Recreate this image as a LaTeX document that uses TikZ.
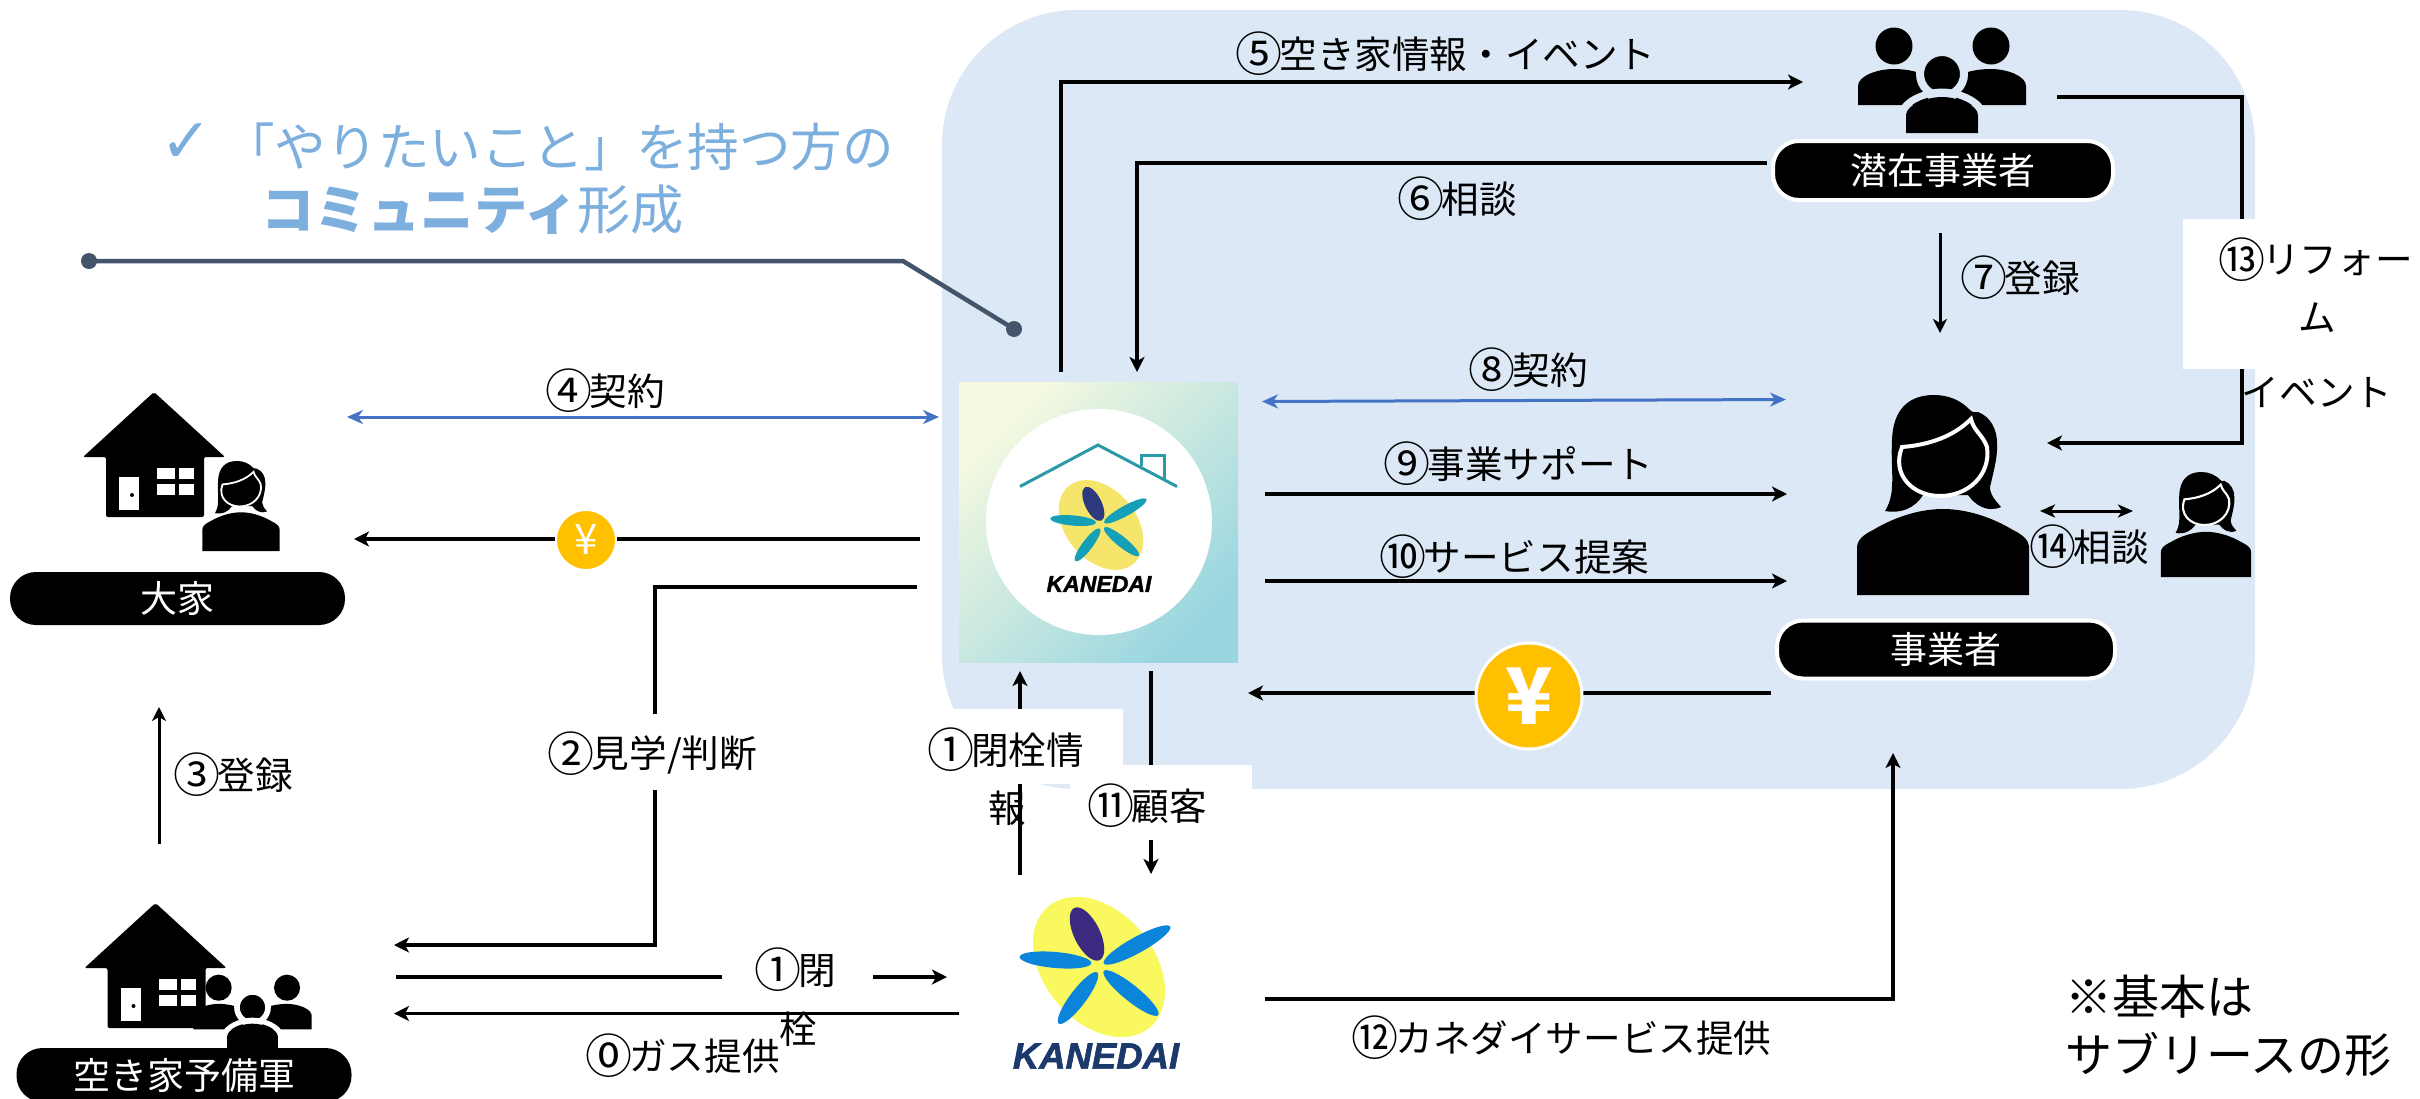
\documentclass[tikz,border=0pt]{standalone}
\usepackage{fontspec}
\setmainfont{Noto Sans CJK JP}
\newfontfamily\dejavu{DejaVu Sans}
\newfontfamily\kanedaifont{Liberation Sans}[BoldItalicFeatures={FakeBold=1.6}]
\usetikzlibrary{arrows.meta,calc}
\definecolor{panelblue}{HTML}{DCE8F5}
\definecolor{arrowblue}{HTML}{4472C4}
\definecolor{titleblue}{HTML}{7CAFDE}
\definecolor{slateline}{HTML}{44546A}
\definecolor{coinorange}{HTML}{FFC000}
\definecolor{logoyellow}{HTML}{F9F95F}
\definecolor{logoblue}{HTML}{0A85D9}
\definecolor{logonavy}{HTML}{3B2A80}
\definecolor{logotext}{HTML}{1B3A6B}
\definecolor{softyellow}{HTML}{F5E56B}
\definecolor{softteal}{HTML}{16A0B8}
\definecolor{softnavy}{HTML}{2E3A80}
\definecolor{roofteal}{HTML}{2A9AA8}
\definecolor{gradA}{HTML}{F5F9E0}
\definecolor{gradB}{HTML}{DFF1E8}
\definecolor{gradC}{HTML}{9AD6E0}
\newcommand{\fsz}[1]{\fontsize{#1}{#1}\selectfont}
\newcommand{\cn}[1]{\kern-3pt\raisebox{-3.5pt}{\smash{\fsz{47}#1}}\kern-3pt}
\tikzset{
  blk/.style={line width=3.6pt,draw=black},
  arr/.style={blk,-{Stealth[length=15pt,width=15pt,inset=4pt]}},
  thinarr/.style={line width=3pt,draw=black,-{Stealth[length=14pt,width=14pt,inset=4pt]}},
  dblarr/.style={line width=3pt,draw=black,{Stealth[length=15pt,width=13pt,inset=4pt]}-{Stealth[length=15pt,width=13pt,inset=4pt]}},
  bluearr/.style={line width=3pt,draw=arrowblue,{Stealth[length=16pt,width=14pt,inset=5pt]}-{Stealth[length=16pt,width=14pt,inset=5pt]}},
  lab/.style={inner sep=0pt,text=black,font=\fsz{37.6}},
  pill/.style={rounded corners=26pt,fill=black,text=white,font=\fsz{37},inner sep=0pt,anchor=center},
  pillw/.style={pill,draw=white,line width=4pt},
  blank/.style={fill=white,draw=none},
  coin/.style={circle,fill=coinorange,draw=white,text=white,inner sep=0pt},
}
% woman icon: #1 position of top centre, #2 scale
\newcommand{\womanicon}[2]{%
\begin{scope}[shift={#1},scale=#2]
\fill[black] (-9,0) .. controls (-35,0) and (-50,15) .. (-51,45) .. controls (-52,65) and (-50,80) .. (-51,91) .. controls (-51,100) and (-54,110) .. (-58,116) .. controls (-42,119) and (-28,113) .. (-20,100) -- (25,100) .. controls (32,110) and (44,118) .. (58,112) .. controls (52,105) and (47,100) .. (47,92) .. controls (51,75) and (55,60) .. (54,48) .. controls (54,35) and (48,22) .. (35,17) .. controls (32,17) and (30,18) .. (28,16) .. controls (18,5) and (5,0) .. (-9,0) -- cycle;
\filldraw[fill=black,draw=white,line width=#2*4pt] (-41,52) .. controls (-15,50) and (10,42) .. (28,24) .. controls (30,35) and (40,40) .. (44,52) .. controls (48,80) and (25,101) .. (-3,101) .. controls (-30,101) and (-52,80) .. (-41,52) -- cycle;
\fill[black] (-86,200) -- (-86,153) .. controls (-86,145) and (-80,140) .. (-70,135) .. controls (-45,120) and (-20,114) .. (0,114) .. controls (20,114) and (45,120) .. (70,135) .. controls (80,140) and (86,145) .. (86,153) -- (86,200) -- cycle;
\end{scope}}
% group icon: #1 top centre, #2 scale, #3 gap colour
\newcommand{\groupicon}[3]{%
\begin{scope}[shift={#1},scale=#2]
\fill[black] (-48,18) circle[radius=18.5];
\fill[black] (49,18) circle[radius=18.5];
\fill[black] (-84,77) -- (-84,58) .. controls (-84,48) and (-65,41) .. (-48,41) .. controls (-35,41) and (-20,44) .. (-14,50) -- (-14,77) -- cycle;
\fill[black] (84,77) -- (84,58) .. controls (84,48) and (65,41) .. (49,41) .. controls (35,41) and (20,44) .. (14,50) -- (14,77) -- cycle;
\filldraw[fill=black,draw=#3,line width=#2*8pt] (0,46) circle[radius=22];
\fill[black] (-36,105) -- (-36,87) .. controls (-36,77) and (-15,69) .. (0,69) .. controls (15,69) and (36,77) .. (36,87) -- (36,105) -- cycle;
\draw[#3,line width=#2*7pt] (-40,105) -- (-40,87) .. controls (-40,73) and (-15,64) .. (0,64) .. controls (15,64) and (40,73) .. (40,87) -- (40,105);
\end{scope}}
% house icon: #1 apex
\newcommand{\houseicon}[1]{%
\begin{scope}[shift={#1}]
\fill[black,rounded corners=2pt] (0,0) -- (71,65) -- (50,65) -- (50,125) -- (-48,125) -- (-48,65) -- (-71,65) -- cycle;
\fill[white] (-35,85) rectangle (-15,118);
\fill[black] (-22,103) circle[radius=2];
\fill[white] (3,76) rectangle (21,87);
\fill[white] (25,76) rectangle (40,87);
\fill[white] (3,92) rectangle (21,103);
\fill[white] (25,92) rectangle (40,103);
\end{scope}}
% KANEDAI mark: #1 centre, #2 scale, #3 yellow, #4 petal, #5 navy
\newcommand{\kanedaimark}[5]{%
\begin{scope}[shift={#1},scale=#2]
\fill[#3,rotate around={-50:(0,0)}] (0,0) ellipse[x radius=79,y radius=55];
\fill[#5,rotate around={-64:(-12,-33)}] (-12,-33) ellipse[x radius=29,y radius=13];
\fill[#4,rotate around={29:(38,-22)}] (38,-22) ellipse[x radius=38,y radius=8];
\fill[#4,rotate around={-5:(-43.5,-7)}] (-43.5,-7) ellipse[x radius=36,y radius=8];
\fill[#4,rotate around={53:(-21,31)}] (-21,31) ellipse[x radius=32,y radius=8];
\fill[#4,rotate around={-39:(32,26)}] (32,26) ellipse[x radius=35,y radius=8];
\end{scope}}
\begin{document}
\begin{tikzpicture}[x=1pt,y=-1pt]
\useasboundingbox (0,0) rectangle (2420,1098);
\fill[white] (0,0) rectangle (2420,1098);
% panel
\fill[panelblue,rounded corners=135pt] (942,10) rectangle (2255,789);

% title
\node[anchor=west,inner sep=0pt,text=titleblue,font=\fsz{62}\dejavu\bfseries] (check) at (160,143) {✓};
\node[anchor=west,inner sep=0pt,text=titleblue,font=\fsz{51.6}] (title1) at (223,147) {「やりたいこと」を持つ方の};
\node[anchor=west,inner sep=0pt,text=titleblue,font=\fsz{53.2}] (title2) at (261,210) {\textbf{コミュニティ}形成};

% leader
\coordinate (ld1) at (89,261);
\coordinate (ld2) at (903,261);
\coordinate (ld3) at (1014,329);
\draw[slateline,line width=4.5pt] (ld1) -- (ld2) -- (ld3);
\fill[slateline] (ld1) circle[radius=8];
\fill[slateline] (ld3) circle[radius=8];

% house owner
\houseicon{(154,392)}
\womanicon{(241,461)}{0.45}
\node[pill,minimum width=335pt,minimum height=53pt] (owner) at (177.5,598.5) {\raisebox{-2pt}{大家}};
% prospective
\houseicon{(155.5,903)}
\groupicon{(252.5,975)}{0.705}{white}
\node[pill,minimum width=335pt,minimum height=54pt] (prospect) at (184,1075) {空き家予備軍};

% upper logo
\shade[shading=axis,top color=gradA,middle color=gradB,bottom color=gradC,shading angle=45] (959,382) rectangle (1238,662);
\fill[white] (1099,522) circle[radius=113];
\draw[roofteal,line width=3pt] (1020,486.5) -- (1098,445) -- (1177,486.5);
\draw[roofteal,line width=3pt] (1141,466) -- (1141,455) -- (1164,455) -- (1164,479);
\kanedaimark{(1101,525)}{0.64}{softyellow}{softteal}{softnavy}
\node[inner sep=0pt,font=\fsz{23}\kanedaifont\bfseries\itshape,text=black] (logotop) at (1099,584) {KANEDAI};
% lower logo
\kanedaimark{(1099,967)}{1}{logoyellow}{logoblue}{logonavy}
\node[inner sep=0pt,font=\fsz{36.5}\kanedaifont\bfseries\itshape,text=logotext] (logobottom) at (1096,1056) {KANEDAI};

% group and women
\groupicon{(1942,28)}{1}{panelblue}
\node[pillw,minimum width=340pt,minimum height=59pt] (potential) at (1943,170.5) {\raisebox{-1pt}{潜在事業者}};
\womanicon{(1943,395)}{1}
\node[pillw,minimum width=338pt,minimum height=58pt] (operator) at (1946,649.5) {\raisebox{-1.5pt}{事業者}};
\womanicon{(2206,472)}{0.525}

% named end points
\coordinate (a5a) at (1061,372); \coordinate (a5b) at (1061,82); \coordinate (a5c) at (1803,82);
\coordinate (a6a) at (1767,163); \coordinate (a6b) at (1137,163); \coordinate (a6c) at (1137,372);
\coordinate (a7a) at (1940,233); \coordinate (a7b) at (1940,333);
\coordinate (a13a) at (2057,97); \coordinate (a13b) at (2242,97); \coordinate (a13c) at (2242,443); \coordinate (a13d) at (2047,443);
\coordinate (a4a) at (347,417); \coordinate (a4b) at (939,417);
\coordinate (a8a) at (1262,401.5); \coordinate (a8b) at (1786,399.5);
\coordinate (a9a) at (1265,494); \coordinate (a9b) at (1787,494);
\coordinate (a10a) at (1265,581); \coordinate (a10b) at (1787,581);
\coordinate (a14a) at (2040,511); \coordinate (a14b) at (2133,511);
\coordinate (ya) at (920,539); \coordinate (yb) at (354,539);
\coordinate (Ya) at (1771,693); \coordinate (Yb) at (1248,693);
\coordinate (a2a) at (917,587); \coordinate (a2b) at (655,587); \coordinate (a2c) at (655,945); \coordinate (a2d) at (394,945);
\coordinate (a3a) at (159,844); \coordinate (a3b) at (159,707);
\coordinate (a1a) at (396,977); \coordinate (a1b) at (947,977);
\coordinate (a0a) at (959,1013.5); \coordinate (a0b) at (394,1013.5);
\coordinate (a1ua) at (1020,875); \coordinate (a1ub) at (1020,671);
\coordinate (a11a) at (1151,671); \coordinate (a11b) at (1151,874);
\coordinate (a12a) at (1265,999); \coordinate (a12b) at (1893,999); \coordinate (a12c) at (1893,753);

% connectors
\draw[arr] (a5a) -- (a5b) -- (a5c);
\draw[arr] (a6a) -- (a6b) -- (a6c);
\draw[thinarr] (a7a) -- (a7b);
\draw[arr] (a13a) -- (a13b) -- (a13c) -- (a13d);
\draw[bluearr] (a4a) -- (a4b);
\draw[bluearr] (a8a) -- (a8b);
\draw[arr] (a9a) -- (a9b);
\draw[arr] (a10a) -- (a10b);
\draw[dblarr] (a14a) -- (a14b);
\draw[arr] (ya) -- (yb);
\draw[arr] (Ya) -- (Yb);
\draw[arr] (a2a) -- (a2b) -- (a2c) -- (a2d);
\draw[thinarr] (a3a) -- (a3b);
\draw[arr] (a1a) -- (a1b);
\draw[arr] (a0a) -- (a0b);
\draw[arr] (a1ua) -- (a1ub);
\draw[arr] (a11a) -- (a11b);
\draw[arr] (a12a) -- (a12b) -- (a12c);

% coins
\node[coin,line width=2pt,minimum size=60pt,font=\fsz{42}] (yen1) at (586,540) {¥};
\node[coin,line width=3pt,minimum size=106pt,font=\fsz{78}\bfseries] (yen2) at (1529,696) {¥};

% white label boxes
\fill[blank] (600,714) rectangle (712,790);
\fill[blank] (722,945) rectangle (873,1005);
\fill[blank] (905,709) rectangle (1123,784);
\fill[blank] (1070,765) rectangle (1252,840);
\fill[blank] (2183,219) rectangle (2420,369);

% labels
\node[lab] (l4) at (607,391) {\cn{④}契約};
\node[lab] (l2) at (654,755) {\cn{②}見学/判断};
\node[lab] (l3) at (235,775) {\cn{③}登録};
\node[lab] (l1a) at (797,971) {\cn{①}閉};
\node[lab] (l1b) at (798,1029) {栓};
\node[lab] (l0) at (684,1056) {\cn{⓪}ガス提供};
\node[lab] (l1ua) at (1007,750) {\cn{①}閉栓情};
\node[lab] (l1ub) at (1007,808) {報};
\node[lab] (l11) at (1149,806) {\cn{⑪}顧客};
\node[lab] (l5) at (1447,54) {\cn{⑤}空き家情報・イベント};
\node[lab] (l6) at (1459,199) {\cn{⑥}相談};
\node[lab] (l7) at (2022,278) {\cn{⑦}登録};
\node[lab] (l8) at (1530,370) {\cn{⑧}契約};
\node[lab] (l9) at (1520,464) {\cn{⑨}事業サポート};
\node[lab] (l10) at (1516,557) {\cn{⑩}サービス提案};
\node[lab] (l12) at (1563,1038) {\cn{⑫}カネダイサービス提供};
\node[lab] (l13a) at (2317,261) {\cn{⑬}リフォー};
\node[lab] (l13b) at (2317,318) {ム};
\node[lab] (l13c) at (2317,392) {イベント};
\node[lab] (l14) at (2091,547) {\cn{⑭}相談};
\node[lab,font=\fsz{47},anchor=west] (n1) at (2065,997) {※基本は};
\node[lab,font=\fsz{47},anchor=west] (n2) at (2065,1054) {サブリースの形};
\end{tikzpicture}
\end{document}
